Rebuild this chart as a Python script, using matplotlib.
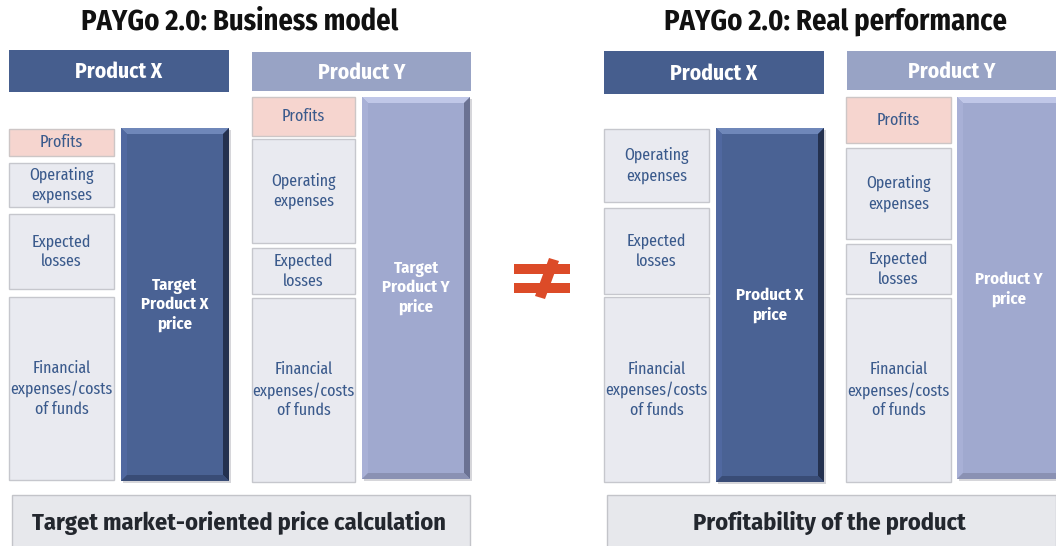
import matplotlib
matplotlib.use("Agg")
import matplotlib.pyplot as plt
from matplotlib.patches import Rectangle, Polygon

# Titles and headers
titles = ["PAYGo 2.0: Business model", "PAYGo 2.0: Real performance"]
title_x = [240, 835]
footers = ["Target market-oriented price calculation", "Profitability of the product"]
footer_span = [(12, 470), (607, 1056)]
headers = ["Product X", "Product Y", "Product X", "Product Y"]
header_span = [(9, 229, 50, 92), (252, 471, 52, 91), (604, 824, 51, 94), (847, 1056, 51, 90)]

# Cost components per column: label, top, bottom
comp_labels = {
    "bx": ["Profits", "Operating\nexpenses", "Expected\nlosses", "Financial\nexpenses/costs\nof funds"],
    "by": ["Profits", "Operating\nexpenses", "Expected\nlosses", "Financial\nexpenses/costs\nof funds"],
    "rx": ["Operating\nexpenses", "Expected\nlosses", "Financial\nexpenses/costs\nof funds"],
    "ry": ["Profits", "Operating\nexpenses", "Expected\nlosses", "Financial\nexpenses/costs\nof funds"],
}
comp_tops = {"bx": [129, 163, 214, 297], "by": [97, 139, 248, 298],
             "rx": [129, 208, 297], "ry": [97, 148, 244, 298]}
comp_bottoms = {"bx": [156, 207, 289, 480], "by": [136, 243, 294, 482],
                "rx": [202, 294, 482], "ry": [143, 239, 294, 482]}
comp_x = {"bx": (9, 114), "by": (252, 355), "rx": (604, 709), "ry": (846, 951)}

# Price bars: label, x0, x1, top, bottom, dark?
price_labels = ["Target\nProduct X\nprice", "Target\nProduct Y\nprice", "Product X\nprice", "Product Y\nprice"]
price_box = [(121, 229, 128, 481), (362, 470, 97, 479), (716, 824, 128, 482), (957, 1062, 97, 479)]
price_text_y = [305, 288, 305, 289]
price_dark = [True, False, True, False]

DARK = "#4A6294"
LIGHT = "#A0A9CF"
TXT = "#3A5A8C"
COND = "Fira Sans Condensed"
XCOND = "Fira Sans Extra Condensed"

fig = plt.figure(figsize=(10.56, 5.46), dpi=100)
ax = fig.add_axes([0, 0, 1, 1])
ax.set_xlim(0, 1056)
ax.set_ylim(546, 0)
ax.axis("off")


def bevel_bar(x0, x1, y0, y1, main, top, left, right, bottom, b=6):
    ax.add_patch(Rectangle((x0 + 2, y0 + 2), x1 - x0, y1 - y0, color="#A4A6AE", alpha=0.45, lw=0))
    ax.add_patch(Rectangle((x0, y0), x1 - x0, y1 - y0, color=main, lw=0))
    ax.add_patch(Polygon([(x0, y0), (x1, y0), (x1 - b, y0 + b), (x0 + b, y0 + b)], color=top, lw=0))
    ax.add_patch(Polygon([(x0, y0), (x0 + b, y0 + b), (x0 + b, y1 - b), (x0, y1)], color=left, lw=0))
    ax.add_patch(Polygon([(x1, y0), (x1, y1), (x1 - b, y1 - b), (x1 - b, y0 + b)], color=right, lw=0))
    ax.add_patch(Polygon([(x0, y1), (x1, y1), (x1 - b, y1 - b), (x0 + b, y1 - b)], color=bottom, lw=0))


# titles
for t, x in zip(titles, title_x):
    ax.text(x, 22, t, ha="center", va="center", fontsize=20.5, fontweight="bold",
            family=COND, color="#111111")

# header boxes
for i, (lab, (x0, x1, y0, y1)) in enumerate(zip(headers, header_span)):
    col = "#465E8E" if i % 2 == 0 else "#98A3C5"
    ax.add_patch(Rectangle((x0, y0), x1 - x0, y1 - y0, color=col, lw=0))
    ax.text((x0 + x1) / 2, (y0 + y1) / 2 + 1, lab, ha="center", va="center", fontsize=15.5,
            fontweight="bold", family=COND, color="white")

# component boxes
for key in comp_labels:
    x0, x1 = comp_x[key]
    for lab, y0, y1 in zip(comp_labels[key], comp_tops[key], comp_bottoms[key]):
        pink = lab == "Profits"
        ax.add_patch(Rectangle((x0, y0), x1 - x0, y1 - y0,
                               facecolor="#F6D5CF" if pink else "#E9EAF0",
                               edgecolor="#CDC6C6" if pink else "#C6C7CD", lw=1))
        ax.text((x0 + x1) / 2, (y0 + y1) / 2, lab, ha="center", va="center", fontsize=12.5,
                fontweight="normal", family=XCOND, color=TXT, linespacing=1.3)

# price bars
for lab, (x0, x1, y0, y1), ty, dark in zip(price_labels, price_box, price_text_y, price_dark):
    if dark:
        bevel_bar(x0, x1, y0, y1, DARK, "#6F87B9", "#5068A0", "#24314F", "#394C76")
    else:
        bevel_bar(x0, x1, y0, y1, LIGHT, "#C0C7E8", "#A8B0D6", "#6B7293", "#8A91B3")
    cx = (x0 + x1) / 2 if x1 < 1056 else (x0 + 1056) / 2 + 2
    ax.text(cx, ty, lab, ha="center", va="center", fontsize=12, fontweight="bold",
            family=COND, color="white", linespacing=1.25)

# not-equal sign
RED = "#DC4B28"
ax.add_patch(Rectangle((514, 264), 56, 10, color=RED, lw=0))
ax.add_patch(Rectangle((514, 283), 56, 10, color=RED, lw=0))
ax.add_patch(Polygon([(549, 258), (559, 261), (545, 299), (535, 296)], color=RED, lw=0))

# footers
for lab, (x0, x1) in zip(footers, footer_span):
    ax.add_patch(Rectangle((x0, 495), x1 - x0, 60, facecolor="#E7E8EC", edgecolor="#C3C4C9", lw=1))
    ax.text((x0 + x1) / 2 - 2, 523, lab, ha="center", va="center", fontsize=17.5,
            fontweight="bold", family=COND, color="#23272E")

fig.savefig("out.png", dpi=100)
